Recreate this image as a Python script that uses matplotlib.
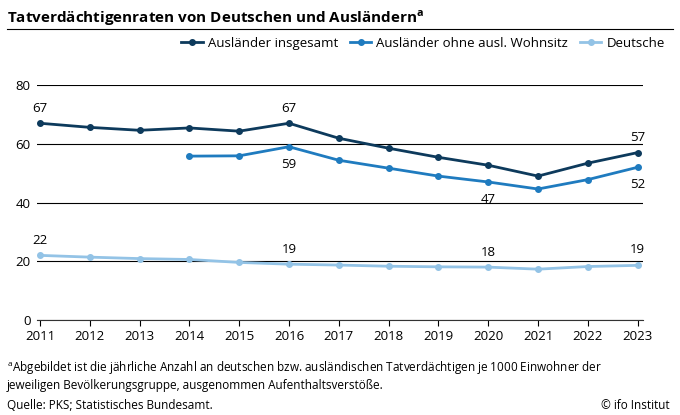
import matplotlib.pyplot as plt

years = list(range(2011, 2024))
auslaender = [67, 65.6, 64.6, 65.4, 64.3, 67, 61.9, 58.5, 55.4, 52.7, 49, 53.4, 57]
years_ohne = list(range(2014, 2024))
ohne_wohnsitz = [55.8, 55.9, 59, 54.4, 51.7, 49, 47, 44.6, 47.8, 52]
deutsche = [22, 21.4, 20.9, 20.6, 19.6, 19, 18.7, 18.3, 18.1, 18, 17.3, 18.2, 18.6]

c_dark = '#0d3a5c'
c_mid = '#1f7bbf'
c_light = '#93c3e6'

plt.rcParams['font.family'] = ['Open Sans', 'DejaVu Sans']
fig = plt.figure(figsize=(6.8, 4.15), dpi=100)
ax = fig.add_axes([0.055, 0.229, 0.89, 0.566])

ax.plot(years, auslaender, color=c_dark, marker='o', ms=4, lw=2, label='Ausländer insgesamt')
ax.plot(years_ohne, ohne_wohnsitz, color=c_mid, marker='o', ms=4, lw=2, label='Ausländer ohne ausl. Wohnsitz')
ax.plot(years, deutsche, color=c_light, marker='o', ms=4, lw=2, label='Deutsche')

ax.set_ylim(0, 80)
ax.set_xlim(2010.95, 2023.1)
ax.set_yticks([0, 20, 40, 60, 80])
ax.set_xticks(years)
ax.tick_params(labelsize=9.5, length=0, pad=5)
ax.tick_params(axis='x', length=4, direction='out', pad=3)
ax.grid(axis='y', color='black', lw=0.8)
ax.set_axisbelow(True)
for s in ['top', 'right', 'left']:
    ax.spines[s].set_visible(False)
ax.spines['bottom'].set_color('#333333')

for x, y in [(2011, 67), (2016, 67), (2023, 57)]:
    ax.annotate(f'{y:.0f}', (x, y), xytext=(0, 6), textcoords='offset points', ha='center', va='bottom', fontsize=9.5)
for x, y in [(2016, 59), (2020, 47), (2023, 52)]:
    ax.annotate(f'{y:.0f}', (x, y), xytext=(0, -8), textcoords='offset points', ha='center', va='top', fontsize=9.5)
for x, y in [(2011, 22), (2016, 19), (2020, 18), (2023, 19)]:
    ax.annotate(f'{y:.0f}', (x, y), xytext=(0, 6), textcoords='offset points', ha='center', va='bottom', fontsize=9.5)

fig.legend(loc='center right', bbox_to_anchor=(0.995, 0.895), ncol=3, frameon=False, fontsize=9.5,
           handlelength=1.6, columnspacing=0.9, handletextpad=0.4)

fig.text(0.01, 0.945, 'Tatverdächtigenraten von Deutschen und Ausländern$^{\\mathregular{a}}$',
         fontsize=11, fontweight='bold')
fig.add_artist(plt.Line2D([0.01, 0.99], [0.93, 0.93], color='black', lw=0.8))
fig.text(0.01, 0.135, '$^{\\mathregular{a}}$Abgebildet ist die jährliche Anzahl an deutschen bzw. ausländischen Tatverdächtigen je 1000 Einwohner der\njeweiligen Bevölkerungsgruppe, ausgenommen Aufenthaltsverstöße.',
         fontsize=8.5, linespacing=1.35, va='top')
fig.text(0.01, 0.015, 'Quelle: PKS; Statistisches Bundesamt.', fontsize=8.5)
fig.text(0.985, 0.015, '© ifo Institut', fontsize=8.5, ha='right')

fig.savefig('out.png', dpi=100)
